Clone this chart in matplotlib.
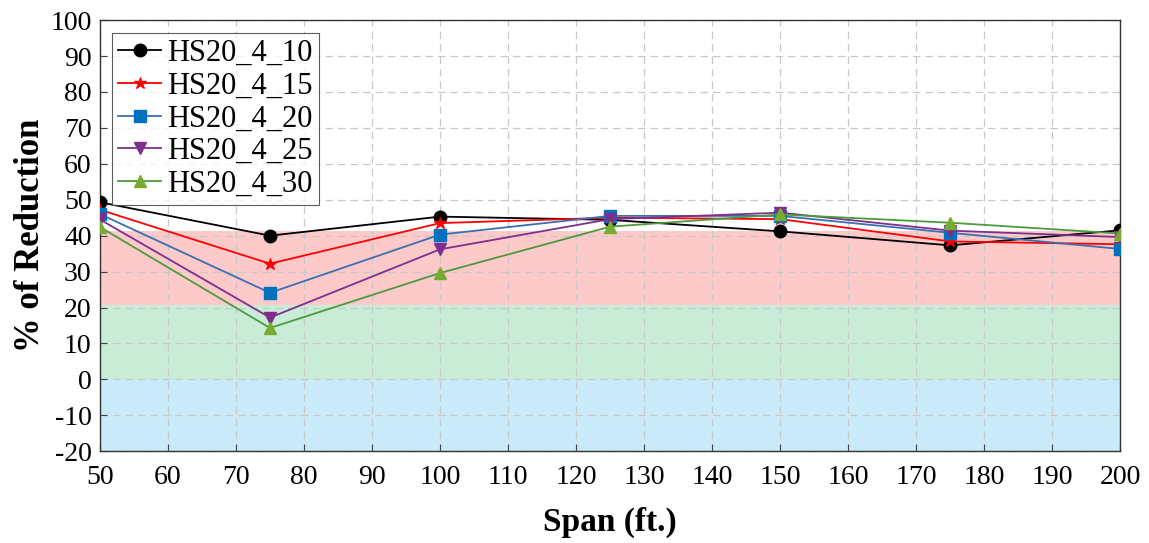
import matplotlib
matplotlib.use("Agg")
import matplotlib.pyplot as plt

span = [50, 75, 100, 125, 150, 175, 200]
hs20_4_10 = [49.3, 40.0, 45.3, 44.4, 41.2, 37.3, 41.5]
hs20_4_15 = [47.2, 32.2, 43.5, 45.0, 44.6, 38.4, 37.6]
hs20_4_20 = [46.0, 24.1, 40.3, 45.5, 45.5, 40.8, 36.3]
hs20_4_25 = [44.5, 17.2, 36.2, 44.6, 46.4, 41.4, 39.6]
hs20_4_30 = [42.4, 14.3, 29.6, 42.5, 45.9, 43.6, 40.6]
labels = ["HS20_4_10", "HS20_4_15", "HS20_4_20", "HS20_4_25", "HS20_4_30"]
xticks = list(range(50, 201, 10))
yticks = list(range(-20, 101, 10))
bands = [(-20, 0, "#c9ebf9"), (0, 20.7, "#c9ecd6"), (20.7, 41.3, "#fdc9c9")]

plt.rcParams['font.family'] = ['Liberation Serif', 'DejaVu Serif']
plt.rcParams['axes.unicode_minus'] = False
fig = plt.figure(figsize=(11.49, 5.43), dpi=100)
ax = fig.add_axes([0.087, 0.169, 0.888, 0.794])

for lo, hi, c in bands:
    ax.axhspan(lo, hi, color=c, zorder=0, lw=0)

series = [hs20_4_10, hs20_4_15, hs20_4_20, hs20_4_25, hs20_4_30]
lcolors = ["#000000", "#ff0000", "#3a6fb0", "#7e2f8e", "#4d9a3c"]
mcolors = ["#000000", "#ff0000", "#0072bd", "#7e2f8e", "#77ac30"]
markers = ["o", "*", "s", "v", "^"]
msizes = [9, 9, 8, 9, 9]
for s, lab, lc, mc, m, ms in zip(series, labels, lcolors, mcolors, markers, msizes):
    ax.plot(span, s, color=lc, marker=m, markersize=ms, markerfacecolor=mc,
            markeredgecolor=mc, lw=1.3, label=lab, zorder=3)

ax.set_xlim(50, 200)
ax.set_ylim(-20, 100)
ax.set_xticks(xticks)
ax.set_yticks(yticks)
ax.tick_params(labelsize=20, direction='in', length=5, color='#444444', pad=6)
ax.tick_params(axis='x', pad=10)
ax.grid(True, linestyle=(0, (6, 4)), color='#c8c8c8', lw=0.9, zorder=1)
ax.set_axisbelow(True)
for sp in ax.spines.values():
    sp.set_color('#333333')
    sp.set_linewidth(1.0)
ax.set_xlabel("Span (ft.)", fontsize=24, fontweight='bold', labelpad=12)
ax.set_ylabel("% of Reduction", fontsize=25, fontweight='bold', labelpad=2)
leg = ax.legend(loc='upper left', fontsize=22, frameon=True, fancybox=False,
                edgecolor='#333333', borderpad=0.2, labelspacing=0.12,
                handlelength=1.4, handletextpad=0.2, borderaxespad=0.0,
                bbox_to_anchor=(0.012, 0.97))
leg.get_frame().set_linewidth(0.8)
leg.set_zorder(5)

fig.savefig("out.png", dpi=100)
